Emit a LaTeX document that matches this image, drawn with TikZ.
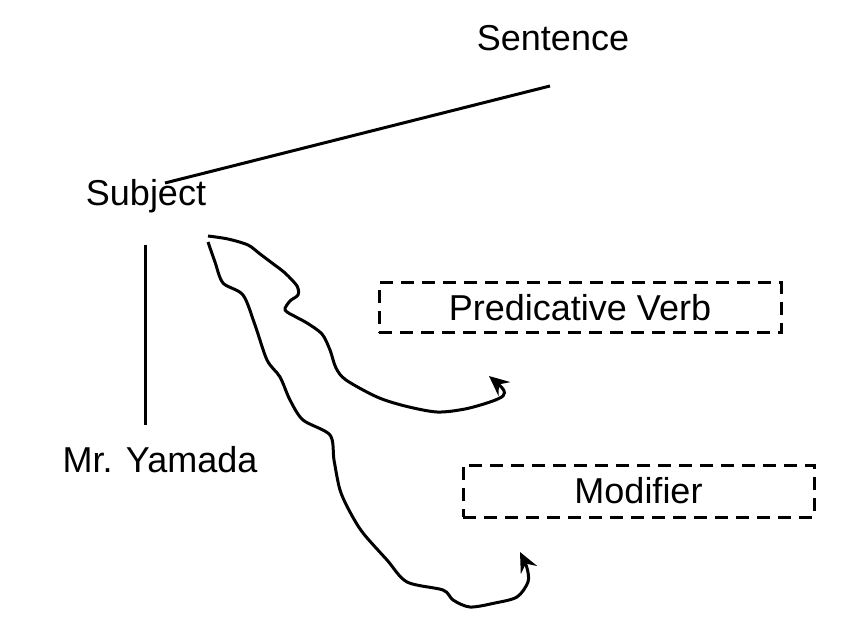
\documentclass[tikz,border=0pt]{standalone}
\usepackage{fontspec}
\setmainfont{Liberation Sans}
\usetikzlibrary{arrows.meta}
\begin{document}
\begin{tikzpicture}[x=1pt,y=-1pt,
  lbl/.style={font=\fontsize{36}{40}\selectfont, inner sep=0pt},
  dbox/.style={draw, line width=3pt, dash pattern=on 13pt off 8pt, minimum width=402pt, minimum height=50pt, inner sep=0pt, font=\fontsize{36}{40}\selectfont},
  ln/.style={line width=3pt},
  wig/.style={line width=3pt, line join=round, -{Stealth[length=20pt,width=18pt,inset=7pt]}}]
\useasboundingbox (0,0) rectangle (863,631);
\node[lbl] (sent) at (553,38) {Sentence};
\node[lbl] (subj) at (146,196) {Subject};
\node[lbl] (yam) at (160,460) {Mr. Yamada};
\node[dbox] (pv) at (580,308) {Predicative Verb};
\node[dbox, minimum width=351pt, minimum height=52pt] (mod) at (638.5,491) {Modifier};
\coordinate (l1a) at (165,183);
\coordinate (l1b) at (550,86);
\coordinate (v1) at (145,245);
\coordinate (v2) at (145,425);
\coordinate (s1) at (208,236);
\coordinate (s2) at (208,242);
\coordinate (e1) at (489,376);
\coordinate (e2) at (520,552);
\draw[ln] (l1a) -- (l1b);
\draw[ln] (v1) -- (v2);
\draw[wig] plot[smooth, tension=0.5] coordinates {(s1) (228,239) (248,245) (260,254) (272,263) (285,273) (297,286) (298,295) (290,301) (285,310) (296,317) (307,323) (322,334) (330,350) (336,368) (346,380) (377,397) (405,406) (437,412) (465,409) (490,402) (503,396) (503,389) (e1)};
\draw[wig] plot[smooth, tension=0.5] coordinates {(s2) (215,262) (223,283) (243,295) (255,325) (267,360) (280,377) (290,400) (303,420) (330,435) (334,460) (340,490) (350,512) (363,533) (387,560) (407,582) (443,590) (453,600) (470,607) (495,603) (517,597) (528,582) (527,568) (e2)};
\end{tikzpicture}
\end{document}
